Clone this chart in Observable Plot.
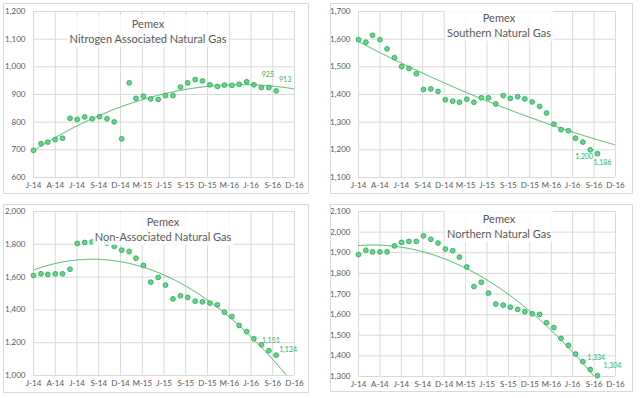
<!DOCTYPE html>
<html><head><meta charset="utf-8">
<script src="https://cdn.jsdelivr.net/npm/d3@7"></script>
<script src="https://cdn.jsdelivr.net/npm/@observablehq/plot@0.6"></script>
<style>
body{margin:0;background:#fff;}
#root{position:relative;width:640px;height:398px;overflow:hidden;font-family:Lato,"Open Sans",sans-serif;background:#fff;}
.panel{position:absolute;}
.panel svg{position:absolute;left:0;top:0;}
.frame{position:absolute;left:0;top:0;right:0;bottom:0;border:1px solid #d9d9d9;box-sizing:border-box;pointer-events:none;}
.title{position:absolute;transform:translateX(-50%);text-align:center;white-space:nowrap;color:#595959;font-size:11px;line-height:15px;padding:1px 2px;background:rgba(255,255,255,0.8);}
</style></head><body><div id="root"></div>
<script>
// Monthly observations, Jan 2014 – Oct 2016
const months = ["2014-01","2014-02","2014-03","2014-04","2014-05","2014-06","2014-07","2014-08","2014-09","2014-10","2014-11","2014-12",
  "2015-01","2015-02","2015-03","2015-04","2015-05","2015-06","2015-07","2015-08","2015-09","2015-10","2015-11","2015-12",
  "2016-01","2016-02","2016-03","2016-04","2016-05","2016-06","2016-07","2016-08","2016-09","2016-10"];

// x axis ticks (90-day steps) and their labels
const tickDates = ["2014-01-01","2014-04-01","2014-06-30","2014-09-28","2014-12-27","2015-03-27","2015-06-25","2015-09-23","2015-12-22","2016-03-21","2016-06-19","2016-09-17","2016-12-16"];
const tickLabels = ["J-14","A-14","J-14","S-14","D-14","M-15","J-15","S-15","D-15","M-16","J-16","S-16","D-16"];

// Series (MMcf/d)
const nitrogen = [698,722,728,737,742,814,810,819,812,820,812,801,740,942,886,894,884,882,896,896,927,942,954,949,935,929,934,933,937,946,935,925,925,913];
const southern = [1598,1589,1614,1598,1565,1533,1501,1494,1475,1418,1420,1411,1381,1376,1372,1383,1372,1388,1388,1366,1396,1386,1392,1384,1373,1357,1333,1293,1273,1269,1242,1228,1200,1186];
const nonAssociated = [1610,1620,1616,1620,1620,1648,1805,1811,1815,null,1807,1787,1764,1756,1715,1671,1569,1598,1551,1467,1486,1476,1453,1449,1441,1431,1386,1360,1305,1268,1224,1187,1151,1124];
const northern = [1891,1912,1904,1904,1904,1933,1950,1955,1955,1982,1965,1947,1918,1910,1879,1831,1736,1757,1704,1651,1646,1636,1625,1614,1604,1601,1561,1537,1485,1451,1409,1372,1334,1304];

// y axis ticks
const yTicks1 = [600,700,800,900,1000,1100,1200];
const yTicks2 = [1100,1200,1300,1400,1500,1600,1700];
const yTicks3 = [1000,1200,1400,1600,1800,2000];
const yTicks4 = [1300,1400,1500,1600,1700,1800,1900,2000,2100];

const titles = ["Nitrogen Associated Natural Gas","Southern Natural Gas","Non-Associated Natural Gas","Northern Natural Gas"];

const GREEN_LINE = "#3cb55e", MARK_FILL = "#62d48e", MARK_STROKE = "#2fae5a", LABEL = "#2fb35a";

const t0 = new Date(tickDates[0]);
const tEnd = new Date(tickDates[tickDates.length - 1]);
const xTicks = tickDates.map(d => new Date(d));
const fmtX = d => tickLabels[xTicks.findIndex(t => +t === +d)];
const fmtY = d3.format(",");

function quadFit(pts) {
  let n=0,s1=0,s2=0,s3=0,s4=0,sy=0,sty=0,st2y=0;
  for (const [t,y] of pts) {n++;s1+=t;s2+=t*t;s3+=t*t*t;s4+=t*t*t*t;sy+=y;sty+=t*y;st2y+=t*t*y;}
  const M=[[n,s1,s2,sy],[s1,s2,s3,sty],[s2,s3,s4,st2y]];
  for (let i=0;i<3;i++){for(let k=i+1;k<3;k++){const f=M[k][i]/M[i][i];for(let j=i;j<4;j++)M[k][j]-=f*M[i][j];}}
  const c=[0,0,0];
  for (let i=2;i>=0;i--){let s=M[i][3];for(let j=i+1;j<3;j++)s-=M[i][j]*c[j];c[i]=s/M[i][i];}
  return t => c[0]+c[1]*t+c[2]*t*t;
}

function panel(cfg) {
  const data = months.map((m,i) => ({date:new Date(m+"-01"), value:cfg.values[i]})).filter(d => d.value != null);
  const yrs = d => (d - t0) / 864e5 / 365;
  const f = quadFit(data.map(d => [yrs(d.date), d.value]));
  const days = (tEnd - t0) / 864e5;
  const trend = d3.range(0, days + 1, 3).map(k => {const d = d3.utcDay.offset(t0, k); return {date:d, value:f(yrs(d))};});
  const last = data.slice(-2);
  const chart = Plot.plot({
    width: cfg.w, height: cfg.h,
    marginLeft: cfg.m[0], marginRight: cfg.m[1], marginTop: cfg.m[2], marginBottom: cfg.m[3],
    style: {fontFamily:"Lato, 'Open Sans', sans-serif", fontSize:"8px", color:"#595959", background:"transparent", overflow:"visible"},
    x: {type:"utc", domain:[t0, tEnd]},
    y: {domain:[cfg.yTicks[0], cfg.yTicks[cfg.yTicks.length-1]]},
    marks: [
      Plot.gridY(cfg.yTicks, {stroke:"#d9d9d9", strokeOpacity:1}),
      Plot.gridX(xTicks, {stroke:"#d9d9d9", strokeOpacity:1}),
      Plot.axisX(xTicks, {tickSize:0, tickPadding:5, tickFormat:fmtX, label:null, fill:"#595959"}),
      Plot.axisY(cfg.yTicks, {tickSize:0, tickPadding:8, tickFormat:fmtY, label:null, fill:"#595959"}),
      Plot.line(trend, {x:"date", y:"value", stroke:GREEN_LINE, strokeWidth:1, clip:true}),
      Plot.dot(data, {x:"date", y:"value", r:2.4, fill:MARK_FILL, stroke:MARK_STROKE, strokeWidth:0.9}),
      Plot.text([last[0]], {x:"date", y:"value", text:d => fmtY(d.value), dx:cfg.l[0][0], dy:cfg.l[0][1], fill:LABEL, fontSize:7}),
      Plot.text([last[1]], {x:"date", y:"value", text:d => fmtY(d.value), dx:cfg.l[1][0], dy:cfg.l[1][1], fill:LABEL, fontSize:7})
    ]
  });
  const div = document.createElement("div");
  div.className = "panel";
  div.style.left = cfg.left + "px"; div.style.top = cfg.top + "px";
  div.style.width = cfg.w + "px"; div.style.height = cfg.h + "px";
  div.appendChild(chart);
  const t = document.createElement("div");
  t.className = "title";
  t.style.left = cfg.tx + "px"; t.style.top = cfg.ty + "px";
  t.innerHTML = "Pemex<br>" + cfg.title;
  div.appendChild(t);
  const fr = document.createElement("div"); fr.className = "frame"; div.appendChild(fr);
  document.getElementById("root").appendChild(div);
}

panel({values:nitrogen, yTicks:yTicks1, title:titles[0], left:3, top:3, w:306, h:191, m:[30,15,8,17], tx:145, ty:12, l:[[-1,-13],[9,-11]]});
panel({values:southern, yTicks:yTicks2, title:titles[1], left:330, top:3, w:303, h:191, m:[28,18,8,17], tx:169, ty:6, l:[[-6,7],[5,9]]});
panel({values:nonAssociated, yTicks:yTicks3, title:titles[2], left:3, top:204, w:306, h:189, m:[30,15,7,18], tx:160, ty:9, l:[[2,-10],[12,-5]]});
panel({values:northern, yTicks:yTicks4, title:titles[3], left:330, top:204, w:303, h:188, m:[28,18,7,16], tx:169, ty:6, l:[[6,-12],[15,-10]]});
</script></body></html>
